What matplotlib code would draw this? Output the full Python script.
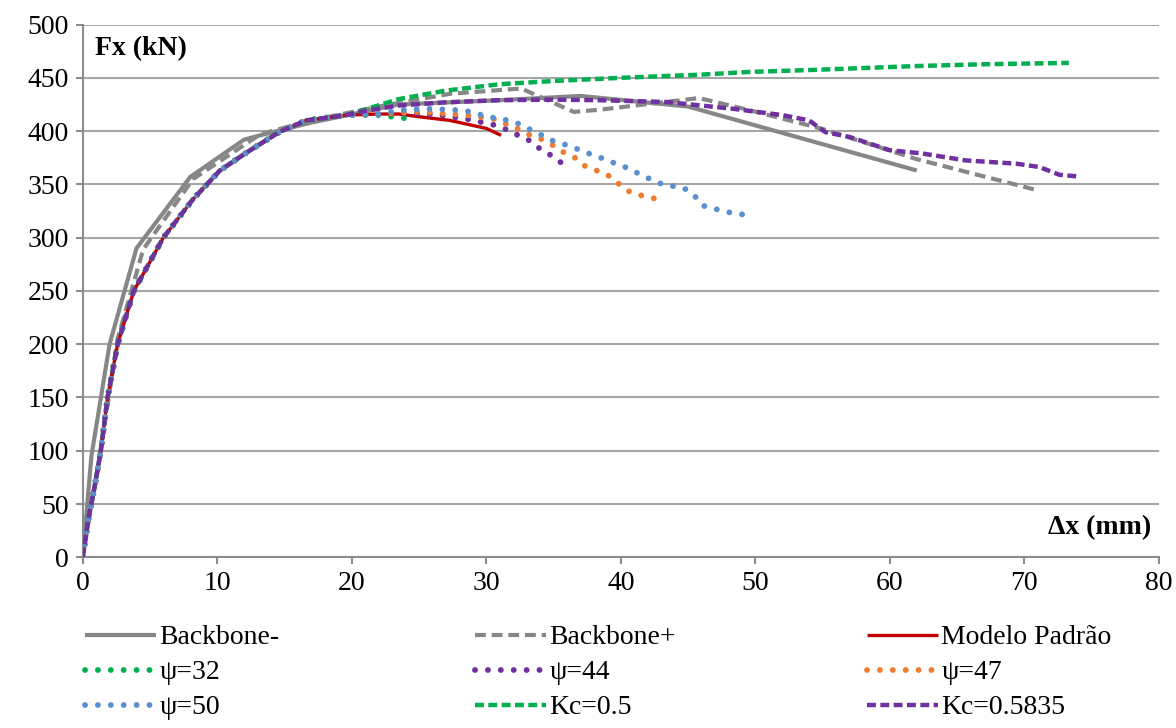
import matplotlib
matplotlib.use("Agg")
import matplotlib.pyplot as plt

plt.rcParams['font.family'] = ['Liberation Serif', 'DejaVu Serif']
plt.rcParams['font.size'] = 20

# ---- data ----
# shared initial branch of the numerical models
base_x = [0, 0.45, 0.9, 1.35, 1.85, 2.6, 3.8, 6.0, 8.2, 10.2, 12.2, 14.6, 16.6, 19.6, 22]
base_y = [0, 38, 67, 100, 150, 200, 250, 300, 336, 363, 380, 399, 410, 415, 416]

bb_minus_x = [0, 0.65, 2, 4, 8, 12, 13.5, 17, 23.5, 31, 37, 45, 62]
bb_minus_y = [0, 95, 200, 290, 357, 392, 397, 408, 425, 429, 433, 423, 363]

bb_plus_x = [0, 1.26, 2.6, 4.5, 8.2, 13.2, 17, 22, 27.3, 32.6, 36.5, 38.4, 45.8, 49.6, 55, 61.9, 70.8]
bb_plus_y = [0, 95, 205, 289, 355, 397, 410, 423, 435, 440, 418, 420, 431, 419.5, 402, 374, 345]

padrao_x = base_x + [23.5, 25.3, 27.3, 30.0, 31.1]
padrao_y = base_y + [416, 413, 410, 402.5, 396]

psi32_x = base_x[:-1] + [22, 24]
psi32_y = base_y[:-1] + [415, 412]

psi44_x = base_x + [24.5, 26.5, 28.5, 30.5, 31.4, 32.2, 33.1, 33.8, 34.6, 35.4, 36.2]
psi44_y = base_y + [417, 415, 411.5, 406, 402, 397, 392, 385, 379, 372, 364]

psi47_x = base_x + [25, 28.5, 30.5, 31.4, 32.2, 33.1, 34.0, 34.8, 35.6, 36.5, 37.2,
                    38.2, 39.0, 39.8, 40.5, 41.4, 42.4, 43.3]
psi47_y = base_y + [418, 415, 411.7, 407, 403, 397, 393, 388, 381, 376, 368,
                    363, 359, 351, 344, 340, 337, 335.5]

psi50_x = base_x + [23.6, 25.5, 27.5, 28.5, 29.4, 30.3, 31.3, 32.2, 33.1, 34.0, 34.8,
                    35.7, 36.6, 37.5, 38.4, 39.3, 40.2, 41.1, 42.0, 42.9, 43.8,
                    44.7, 45.5, 46.1, 47.0, 47.9, 48.9, 49.9]
psi50_y = base_y + [419.5, 421, 420, 419, 416, 413, 411, 408, 402.5, 397, 391.5,
                    388, 384, 379.5, 375.5, 371, 367, 361.5, 356, 351, 348.5,
                    346.5, 339, 330, 327, 324, 322, 320.5]

kc05_x = base_x[:-1] + [23.5, 27, 31, 35, 40, 46, 49.5, 54.5, 61.9, 66.9, 73.3]
kc05_y = base_y[:-1] + [430, 438, 444, 447, 450, 453, 455.5, 457.5, 461, 462.7, 464]

kc058_x = base_x[:-1] + [21, 23.5, 27, 31, 35, 38.4, 43.4, 48.3, 52.0, 54.0, 55.2, 57.0,
                         60.0, 62.4, 65.6, 69.4, 71.1, 72.6, 73.9]
kc058_y = base_y[:-1] + [419, 424, 427, 429, 429.5, 429, 427.3, 421, 415, 410, 399, 394.5,
                         382, 379, 372.5, 369.4, 366.3, 359, 357.5]

fig = plt.figure(figsize=(11.76, 7.28), dpi=100)
ax = fig.add_axes([0.0703, 0.2345, 0.9152, 0.7318])

grid_c = '#a6a6a6'
dot = (0, (0.01, 2.2))
dash_bb = (0, (2.6, 1.4))
dash_kc = (0, (2.0, 1.0))

series = [
    (bb_minus_x, bb_minus_y, 'Backbone-', '#878787', '-', 3.0),
    (bb_plus_x, bb_plus_y, 'Backbone+', '#878787', dash_bb, 3.0),
    (padrao_x, padrao_y, 'Modelo Padrão', '#c00000', '-', 2.4),
    (psi32_x, psi32_y, 'ψ=32', '#00b050', dot, 4.2),
    (psi44_x, psi44_y, 'ψ=44', '#7030a0', dot, 4.2),
    (psi47_x, psi47_y, 'ψ=47', '#ed7d31', dot, 4.2),
    (psi50_x, psi50_y, 'ψ=50', '#5b8fcf', dot, 4.2),
    (kc05_x, kc05_y, 'Kc=0.5', '#00b050', dash_kc, 3.2),
    (kc058_x, kc058_y, 'Kc=0.5835', '#7030a0', dash_kc, 3.2),
]

handles = []
for xs, ys, lab, col, ls, lw in series:
    ln, = ax.plot(xs, ys, color=col, linestyle=ls, linewidth=lw, label=lab,
                  dash_capstyle='round' if ls == dot else 'butt',
                  solid_capstyle='butt', zorder=3)
    handles.append(ln)

ax.set_xlim(0, 80)
ax.set_ylim(0, 500)
ax.set_xticks(range(0, 81, 10))
ax.set_yticks(range(0, 501, 50))
ax.yaxis.grid(True, color=grid_c, linewidth=1.5)
ax.set_axisbelow(True)
for s in ['top', 'right']:
    ax.spines[s].set_visible(False)
for s in ['left', 'bottom']:
    ax.spines[s].set_color('#8c8c8c')
    ax.spines[s].set_linewidth(1.5)
ax.tick_params(axis='both', colors='#8c8c8c', labelcolor='black',
               length=5, width=1.5, labelsize=20, pad=5)

ax.text(0.011, 0.955, 'Fx (kN)', transform=ax.transAxes, ha='left', va='center',
        fontsize=20, fontweight='bold')
ax.text(0.993, 0.056, 'Δx (mm)', transform=ax.transAxes, ha='right', va='center',
        fontsize=20, fontweight='bold')

# legend: three columns placed like the original
col_x = [85 / 1176, 475 / 1176, 867 / 1176]
for i in range(3):
    hs = [handles[i], handles[i + 3], handles[i + 6]]
    fig.legend(handles=hs, loc='upper left', bbox_to_anchor=(col_x[i], 1 - 625 / 728),
               frameon=False, fontsize=20, handlelength=2.55, handletextpad=0.12,
               labelspacing=0.34, borderpad=0, borderaxespad=0)

fig.savefig('out.png', dpi=100)
